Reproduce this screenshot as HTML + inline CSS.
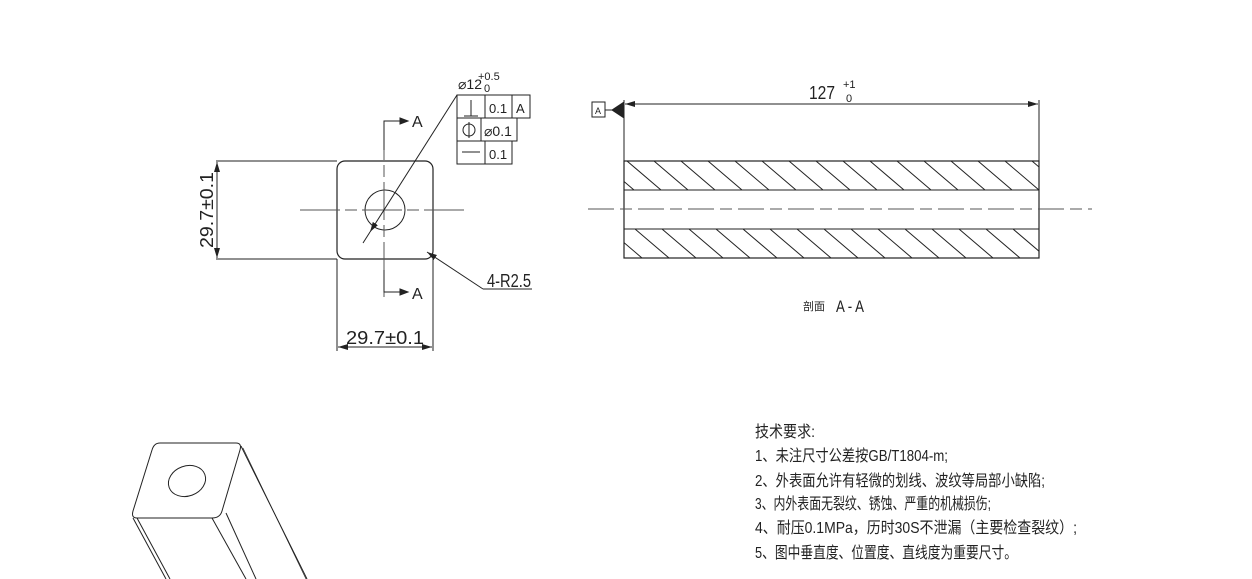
<!DOCTYPE html>
<html><head><meta charset="utf-8"><style>
body{margin:0;background:#fff}
svg{display:block}
text{font-family:"Liberation Sans","Noto Sans CJK SC",sans-serif;fill:#222}
</style></head><body>
<svg width="1252" height="579" viewBox="0 0 1252 579" xmlns="http://www.w3.org/2000/svg">
<defs>
<marker id="ar" markerWidth="10" markerHeight="6" refX="10" refY="3" orient="auto-start-reverse" markerUnits="userSpaceOnUse"><path d="M0,0 L10,3 L0,6 z" fill="#222"/></marker>
<clipPath id="c1"><rect x="624" y="161" width="415" height="29"/></clipPath>
<clipPath id="c2"><rect x="624" y="229" width="415" height="29"/></clipPath>
</defs>
<g stroke="#222" stroke-width="1" fill="none">
<rect x="337" y="161" width="96" height="98" rx="8" stroke-width="1.2"/>
<circle cx="385" cy="210" r="20"/>
<line x1="300" y1="210" x2="469" y2="210" stroke="#555" stroke-dasharray="40,5,12,5"/>
<line x1="384" y1="122" x2="384" y2="298" stroke="#555" stroke-dasharray="38,5,12,5"/>
<polyline points="384,150 384,121 400,121"/>
<path d="M400,118 L408,121 L400,124 z" fill="#222"/>
<polyline points="384,270 384,292 400,292"/>
<path d="M400,289 L408,292 L400,295 z" fill="#222"/>
<line x1="216" y1="161" x2="337" y2="161"/>
<line x1="216" y1="259" x2="337" y2="259"/>
<line x1="217" y1="162" x2="217" y2="258" marker-start="url(#ar)" marker-end="url(#ar)"/>
<line x1="337" y1="259" x2="337" y2="351"/>
<line x1="433" y1="259" x2="433" y2="351"/>
<line x1="338" y1="347" x2="432" y2="347" marker-start="url(#ar)" marker-end="url(#ar)"/>
<line x1="457" y1="95" x2="370" y2="232" marker-end="url(#ar)"/>
<line x1="370" y1="232" x2="363" y2="243"/>
<line x1="457" y1="95" x2="500" y2="95"/>
<line x1="483" y1="289" x2="427" y2="252" marker-end="url(#ar)"/>
<line x1="483" y1="289" x2="532" y2="289"/>
<rect x="457" y="95" width="73" height="23"/>
<line x1="485" y1="95" x2="485" y2="118"/><line x1="512" y1="95" x2="512" y2="118"/>
<rect x="457" y="118" width="60" height="23"/>
<line x1="481" y1="118" x2="481" y2="141"/>
<rect x="457" y="141" width="55" height="23"/>
<line x1="485" y1="141" x2="485" y2="164"/>
<line x1="464" y1="116" x2="478" y2="116"/><line x1="471" y1="100" x2="471" y2="116"/>
<circle cx="469" cy="130" r="6"/><line x1="469" y1="122" x2="469" y2="138"/>
<line x1="462" y1="152" x2="480" y2="152"/>
<rect x="624" y="161" width="415" height="97" stroke-width="1.2"/>
<line x1="624" y1="190" x2="1039" y2="190"/>
<line x1="624" y1="229" x2="1039" y2="229"/>
<line x1="588" y1="209" x2="1092" y2="209" stroke="#555" stroke-dasharray="26,6,12,6"/>
<g clip-path="url(#c1)">
<path d="M600,161 l34,29 M627,161 l34,29 M654,161 l34,29 M681,161 l34,29 M708,161 l34,29 M735,161 l34,29 M762,161 l34,29 M789,161 l34,29 M816,161 l34,29 M843,161 l34,29 M870,161 l34,29 M897,161 l34,29 M924,161 l34,29 M951,161 l34,29 M978,161 l34,29 M1005,161 l34,29 M1032,161 l34,29"/>
</g>
<g clip-path="url(#c2)">
<path d="M608,229 l34,29 M635,229 l34,29 M662,229 l34,29 M689,229 l34,29 M716,229 l34,29 M743,229 l34,29 M770,229 l34,29 M797,229 l34,29 M824,229 l34,29 M851,229 l34,29 M878,229 l34,29 M905,229 l34,29 M932,229 l34,29 M959,229 l34,29 M986,229 l34,29 M1013,229 l34,29 M1040,229 l34,29"/>
</g>
<line x1="624" y1="100" x2="624" y2="161"/>
<line x1="1039" y1="100" x2="1039" y2="161"/>
<line x1="625" y1="104" x2="1038" y2="104" marker-start="url(#ar)" marker-end="url(#ar)"/>
<rect x="592" y="102" width="13" height="15"/>
<line x1="605" y1="110" x2="614" y2="110"/>
<path d="M612,110 L624,102 L624,118 z" fill="#222"/>
<path d="M160,443 L236,443 Q242,443 240,450 L222,511 Q220,518 212,518 L137,518 Q131,518 133,511 L152,450 Q154,443 160,443 z"/>
<ellipse cx="187" cy="481" rx="19" ry="15" transform="rotate(-20 187 481)"/>
<line x1="241" y1="446" x2="307" y2="579"/><line x1="243" y1="448" x2="306" y2="579" stroke-width="0.6"/>
<line x1="212" y1="518" x2="246" y2="579"/><line x1="226" y1="513" x2="256" y2="579"/>
<line x1="133" y1="518" x2="166" y2="579"/><line x1="137" y1="518" x2="170" y2="579"/>
</g>
<g font-size="18">
<text x="458" y="89" font-size="14">⌀12</text>
<text x="478" y="80" font-size="11">+0.5</text>
<text x="484" y="92" font-size="11">0</text>
<text x="489" y="113" font-size="13">0.1</text>
<text x="516" y="113" font-size="13">A</text>
<text x="484" y="136" font-size="14">⌀0.1</text>
<text x="489" y="159" font-size="13">0.1</text>
<text x="412" y="127" font-size="16">A</text>
<text x="412" y="299" font-size="16">A</text>
<text x="213" y="248" transform="rotate(-90 213 248)" textLength="76" lengthAdjust="spacingAndGlyphs">29.7±0.1</text>
<text x="346" y="344" textLength="78" lengthAdjust="spacingAndGlyphs">29.7±0.1</text>
<text x="487" y="287" textLength="44" lengthAdjust="spacingAndGlyphs">4-R2.5</text>
<text x="809" y="99" textLength="26" lengthAdjust="spacingAndGlyphs">127</text>
<text x="843" y="88" font-size="11">+1</text>
<text x="846" y="102" font-size="11">0</text>
<text x="595" y="114" font-size="9">A</text>
<text x="803" y="310" font-size="11">剖面</text>
<text x="836" y="312" font-size="17" textLength="28" lengthAdjust="spacingAndGlyphs">A - A</text>
</g>
<g font-size="16">
<text x="755" y="437" textLength="60" lengthAdjust="spacingAndGlyphs">技术要求:</text>
<text x="755" y="461" textLength="193" lengthAdjust="spacingAndGlyphs">1、未注尺寸公差按GB/T1804-m;</text>
<text x="755" y="486" textLength="290" lengthAdjust="spacingAndGlyphs">2、外表面允许有轻微的划线、波纹等局部小缺陷;</text>
<text x="755" y="509" textLength="236" lengthAdjust="spacingAndGlyphs">3、内外表面无裂纹、锈蚀、严重的机械损伤;</text>
<text x="755" y="533" textLength="322" lengthAdjust="spacingAndGlyphs">4、耐压0.1MPa，历时30S不泄漏（主要检查裂纹）;</text>
<text x="755" y="558" textLength="262" lengthAdjust="spacingAndGlyphs">5、图中垂直度、位置度、直线度为重要尺寸。</text>
</g>
</svg>
</body></html>
